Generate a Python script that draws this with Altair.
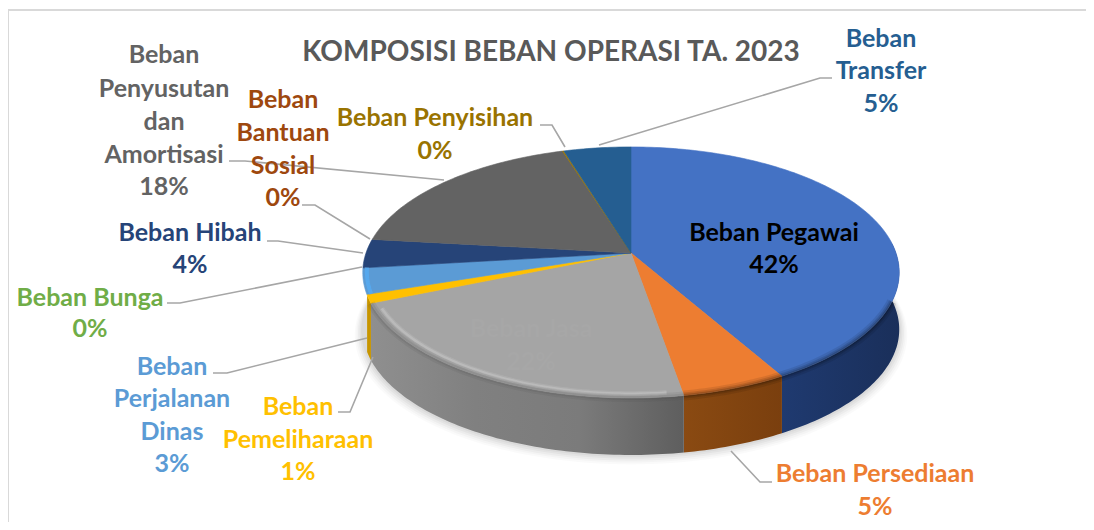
import math
import altair as alt
import pandas as pd

# ---- chart values ----
categories = ["Beban Pegawai", "Beban Persediaan", "Beban Jasa", "Beban Pemeliharaan",
              "Beban Perjalanan Dinas", "Beban Bunga", "Beban Hibah", "Beban Bantuan Sosial",
              "Beban Penyusutan dan Amortisasi", "Beban Penyisihan", "Beban Transfer"]
values = [41.8, 5.5, 21.4, 1.1, 3.3, 0.0, 3.7, 0.0, 18.4, 0.1, 4.7]
top_colors = ["#4472C4", "#ED7D31", "#A5A5A5", "#FFC000", "#5B9BD5", "#70AD47",
              "#264478", "#9E480E", "#636363", "#997300", "#255E91"]
wall_stops = [["#1F3A70", "#1A2F5A"], ["#8A4A12", "#7A3F0E"],
              ["#8F8F8F", "#808080", "#7B7B7B", "#5E5E5E"], ["#C79500", "#C79500"],
              ["#4F93D8", "#4F93D8"], ["#557F38", "#557F38"], ["#1C3359", "#1C3359"],
              ["#76350A", "#76350A"], ["#4A4A4A", "#4A4A4A"], ["#725600", "#725600"],
              ["#1C4A70", "#1C4A70"]]

title_text = "KOMPOSISI BEBAN OPERASI TA. 2023"
label_lines = [
    (["Beban Pegawai", "42%"], 774, [233, 265], "#000000"),
    (["Beban Persediaan", "5%"], 875, [474, 507], "#ED7D31"),
    (["Beban Jasa", "22%"], 531, [329, 362], "#A7A7A7"),
    (["Beban", "Pemeliharaan", "1%"], 298, [407, 440, 472], "#FFC000"),
    (["Beban", "Perjalanan", "Dinas", "3%"], 172, [367, 399, 432, 464], "#5B9BD5"),
    (["Beban Bunga", "0%"], 90, [298, 329], "#70AD47"),
    (["Beban Hibah", "4%"], 190, [233, 265], "#264478"),
    (["Beban", "Bantuan", "Sosial", "0%"], 283, [100, 133, 166, 198], "#9E480E"),
    (["Beban", "Penyusutan", "dan", "Amortisasi", "18%"], 164, [55, 89, 122, 155, 187], "#636363"),
    (["Beban Penyisihan", "0%"], 435, [118, 151], "#997300"),
    (["Beban", "Transfer", "5%"], 881, [39, 71, 104], "#255E91"),
]
leaders = [
    [(599, 145), (820, 78), (832, 78)],
    [(565, 147), (552, 125), (540, 125)],
    [(229, 161), (245, 161), (444, 180)],
    [(302, 205), (315, 205), (370, 239)],
    [(267, 241), (278, 241), (363, 253)],
    [(167, 303), (180, 303), (362, 267)],
    [(213, 373), (227, 373), (367, 338)],
    [(338, 412), (350, 412), (373, 357)],
    [(731, 451), (760, 482), (772, 482)],
]
border = [(1086, 10), (8, 10), (8, 522)]

# ---- projection of the tilted disc ----
CX, Y0, A, B, K = 631, 253, 265, 122.5, 0.155
DEPTH, BOTTOM_SCALE = 57, 1.0
WALL_FROM, WALL_TO = 85, 251

def project(theta_deg, r=1.0, lower=False, grow=0.0, drop=0.0):
    t = math.radians(theta_deg)
    u, v = r * math.sin(t), -r * math.cos(t)
    w = 1 - K * v
    s = BOTTOM_SCALE if lower else 1.0
    return (CX + (s + grow) * A * u / w,
            Y0 + (DEPTH if lower else 0) + drop + (s + grow) * B * v / w)

X = alt.X("x:Q", scale=alt.Scale(domain=[8, 1086]), axis=None)
Y = alt.Y("y:Q", scale=alt.Scale(domain=[522, 8]), axis=None)

def frame(points):
    return pd.DataFrame({"x": [p[0] for p in points], "y": [p[1] for p in points],
                         "i": list(range(len(points)))})

def shape(points, **mark):
    return alt.Chart(frame(points)).mark_line(**mark).encode(x=X, y=Y, order="i:Q")

def sweep(a, b):
    n = max(2, int(abs(b - a)) + 2)
    return [a + (b - a) * i / (n - 1) for i in range(n)]

layers = []

# chart border
layers.append(shape(border, stroke="#D9D9D9", strokeWidth=2))

# soft shadow beneath the disc
for g, op in [(0.03, 0.02), (0.024, 0.025), (0.018, 0.03), (0.012, 0.035), (0.006, 0.04)]:
    ring = [project(t, lower=True, grow=g, drop=g * 170) for t in range(60, 300, 2)]
    layers.append(shape(ring, interpolate="linear-closed", fill="#000000", fillOpacity=op,
                        strokeWidth=0))

# slice angles
total = sum(values)
spans, start = [], 0.0
for v in values:
    end = start + v / total * 360
    spans.append((start, end))
    start = end

# side walls (front of the disc only)
for (a, b), stops, v in zip(spans, wall_stops, values):
    lo, hi = max(a, WALL_FROM), min(b, WALL_TO)
    if v <= 0 or hi <= lo:
        continue
    th = sweep(lo, hi)
    pts = [project(t) for t in th] + [project(t, lower=True) for t in reversed(th)]
    n = len(stops) - 1
    grad = alt.LinearGradient(gradient="linear", x1=0, x2=1, y1=0, y2=0,
                              stops=[alt.GradientStop(color=c, offset=i / n)
                                     for i, c in enumerate(stops)])
    layers.append(shape(pts, interpolate="linear-closed", fill=grad, strokeWidth=0))

# top faces
for (a, b), col, v in zip(spans, top_colors, values):
    if v <= 0:
        continue
    pts = [project(a, 0)] + [project(t) for t in sweep(a, b)]
    layers.append(shape(pts, interpolate="linear-closed", fill=col, stroke=col, strokeWidth=0.6))

# rim shading on the front edge
for (a, b), col, v, name in zip(spans, top_colors, values, categories):
    if v <= 0:
        continue
    th = sweep(a, b)
    if name == "Beban Jasa":
        th2 = sweep(a + 3, b - 3)
        for r, w, op in [(0.975, 5, 0.14), (0.975, 2.5, 0.22)]:
            layers.append(shape([project(t, r) for t in th2], stroke="#E6E6E6",
                                strokeWidth=w, strokeOpacity=op))
        for r, w, op in [(1.0, 8, 0.10), (1.0, 4, 0.12)]:
            layers.append(shape([project(t, r) for t in th], stroke="#404040",
                                strokeWidth=w, strokeOpacity=op))
    if name in ("Beban Pegawai", "Beban Persediaan"):
        th2 = sweep(max(a, 112), b)
        for w, op in [(10, 0.09), (6, 0.12), (3, 0.16)]:
            layers.append(shape([project(t, 1.0) for t in th2], stroke="#000000",
                                strokeWidth=w, strokeOpacity=op))
    if name == "Beban Perjalanan Dinas":
        layers.append(shape([project(t, 0.985) for t in th], stroke="#55AAF0",
                            strokeWidth=4, strokeOpacity=0.9))

# leader lines
for pts in leaders:
    layers.append(shape(pts, stroke="#A6A6A6", strokeWidth=1.6))

# labels
rows = []
for lines, cx, ys, col in label_lines:
    for line, y in zip(lines, ys):
        rows.append({"x": cx, "y": y, "t": line, "c": col})
layers.append(alt.Chart(pd.DataFrame(rows)).mark_text(
    font="Lato", fontWeight="bold", fontSize=25, align="center", baseline="middle"
).encode(x=X, y=Y, text="t:N", color=alt.Color("c:N", scale=None, legend=None)))

# title
layers.append(alt.Chart(pd.DataFrame({"x": [551], "y": [53], "t": [title_text]})).mark_text(
    font="Lato", fontWeight="bold", fontSize=28, align="center", baseline="middle", color="#595959"
).encode(x=X, y=Y, text="t:N"))

chart = alt.layer(*layers).properties(
    width=1078, height=514, padding=0, autosize=alt.AutoSizeParams(type="none"),
    background="white"
).configure_view(stroke=None)

chart.save("out.html", embed_options={"renderer": "svg", "actions": False})
